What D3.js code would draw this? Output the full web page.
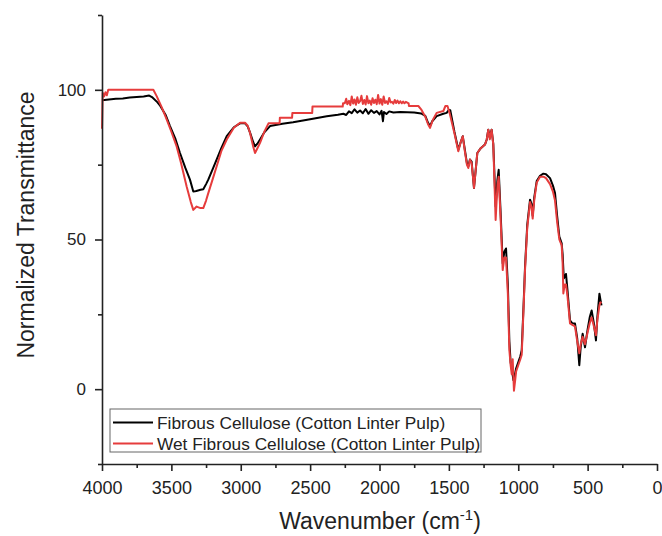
<!DOCTYPE html>
<html>
<head>
<meta charset="utf-8">
<script src="https://cdn.jsdelivr.net/npm/d3@7"></script>
<style>
  body { margin: 0; background: #fff; }
  text { font-family: "Liberation Sans", Arial, sans-serif; }
</style>
</head>
<body>
<svg id="chart" width="662" height="536"></svg>
<script>
// series names
const seriesNames = ["Fibrous Cellulose (Cotton Linter Pulp)", "Wet Fibrous Cellulose (Cotton Linter Pulp)"];

// axis ticks
const xMajorTicks = [4000, 3500, 3000, 2500, 2000, 1500, 1000, 500, 0];
const xMinorTicks = [3750, 3250, 2750, 2250, 1750, 1250, 750, 250];
const yMajorTicks = [0, 50, 100];
const yMinorTicks = [-25, 25, 75, 125];

// fibrous cellulose, [wavenumber, transmittance]
const fibrous = [
  [4000, 96.5], [3950, 96.8], [3900, 97.0], [3850, 97.1], [3800, 97.4], [3750, 97.6],
  [3700, 97.8], [3660, 98.1], [3640, 97.6], [3600, 95.8], [3580, 94.6], [3540, 91.5],
  [3510, 87.9], [3470, 83.5], [3438, 78.9], [3400, 74.0], [3366, 70.0], [3342, 66.0],
  [3320, 66.2], [3290, 66.6], [3270, 66.8], [3250, 68.5], [3234, 70.0], [3200, 73.8],
  [3174, 76.7], [3140, 80.5], [3101, 84.5], [3050, 87.5], [3005, 88.8], [2969, 88.8],
  [2950, 87.8], [2933, 85.7], [2910, 82.5], [2897, 81.1], [2880, 82.0], [2861, 83.4],
  [2830, 85.8], [2789, 87.9], [2700, 88.7], [2623, 89.2], [2500, 90.2], [2380, 91.2],
  [2300, 91.7], [2260, 92.0], [2240, 91.6], [2220, 92.8], [2200, 92.2], [2180, 93.5],
  [2160, 92.4], [2140, 93.1], [2120, 92.2], [2100, 93.6], [2080, 92.0], [2060, 93.2],
  [2040, 92.3], [2020, 92.9], [2000, 91.8], [1985, 93.0], [1975, 89.5], [1968, 92.6],
  [1950, 91.9], [1930, 92.8], [1900, 92.4], [1850, 92.6], [1800, 92.5], [1750, 92.4],
  [1700, 92.1], [1670, 91.3], [1650, 89.0], [1636, 87.9], [1620, 89.5], [1588, 91.2],
  [1540, 92.0], [1516, 92.3], [1500, 93.3], [1490, 93.2], [1460, 86.0], [1432, 80.0],
  [1415, 82.5], [1400, 84.5], [1385, 80.0], [1370, 75.5], [1360, 74.4], [1348, 76.7],
  [1336, 76.0], [1319, 67.2], [1305, 74.0], [1295, 78.9], [1270, 80.5], [1240, 81.7],
  [1227, 83.4], [1216, 86.7], [1205, 84.0], [1192, 86.7], [1180, 82.0], [1163, 61.0],
  [1150, 70.0], [1141, 73.3], [1128, 60.0], [1112, 42.0], [1100, 46.0], [1088, 47.0],
  [1075, 35.0], [1064, 16.0], [1055, 9.0], [1047, 7.0], [1035, 3.0], [1028, 4.0],
  [1015, 7.0], [1000, 9.0], [985, 11.0], [975, 13.0], [960, 30.0], [951, 41.0],
  [935, 55.0], [915, 63.3], [905, 62.0], [896, 58.0], [885, 64.0], [867, 69.5],
  [843, 71.3], [819, 72.0], [800, 71.8], [771, 70.5], [750, 68.0], [735, 65.5],
  [720, 58.0], [704, 51.0], [687, 48.7], [680, 45.0], [672, 37.0], [665, 37.5],
  [656, 38.5], [645, 33.0], [627, 23.0], [610, 22.0], [591, 21.9], [575, 17.0],
  [560, 8.0], [550, 14.0], [536, 18.5], [519, 14.0], [500, 20.0], [485, 24.0],
  [471, 26.3], [455, 22.0], [440, 16.3], [430, 24.0], [415, 31.9], [408, 30.0], [400, 28.0]
];

// wet fibrous cellulose
const wet = [
  [4000, 87.0], [3995, 99.0], [3985, 97.8], [3975, 99.2], [3965, 98.2], [3955, 100],
  [3900, 100], [3800, 100], [3700, 100], [3630, 100], [3606, 97.9], [3570, 94.2],
  [3534, 90.1], [3500, 86.0], [3462, 81.1], [3430, 75.5], [3390, 67.7], [3360, 62.5],
  [3342, 59.9], [3318, 61.0], [3290, 60.5], [3270, 60.5], [3250, 63.0], [3234, 65.5],
  [3200, 70.5], [3174, 74.4], [3140, 79.5], [3101, 83.4], [3050, 87.3], [3005, 89.0],
  [2969, 89.0], [2950, 88.0], [2933, 85.6], [2910, 81.0], [2897, 78.9], [2880, 80.5],
  [2861, 82.3], [2830, 86.0], [2800, 88.8], [2720, 88.8], [2718, 90.7], [2630, 90.7],
  [2628, 92.3], [2485, 92.3], [2483, 94.4], [2265, 94.4], [2263, 95.5], [2250, 95.5],
  [2240, 97.0], [2232, 95.2], [2220, 96.3], [2210, 94.9], [2200, 97.8], [2190, 95.4],
  [2180, 96.8], [2170, 95.0], [2160, 97.5], [2150, 95.6], [2140, 96.2], [2130, 98.0],
  [2120, 95.3], [2110, 96.6], [2100, 95.1], [2090, 97.9], [2080, 95.5], [2070, 96.4],
  [2060, 95.0], [2050, 97.2], [2040, 95.6], [2030, 96.7], [2020, 95.2], [2010, 98.3],
  [2000, 95.4], [1990, 96.9], [1980, 95.0], [1970, 97.8], [1960, 95.6], [1950, 96.2],
  [1940, 95.3], [1930, 97.3], [1920, 95.8], [1910, 96.0], [1900, 95.4], [1890, 96.6],
  [1880, 95.6], [1870, 96.4], [1860, 95.5], [1850, 96.2], [1840, 95.5], [1830, 96.1],
  [1820, 95.5], [1810, 96.0], [1790, 95.5], [1788, 94.6], [1720, 94.6], [1700, 93.5],
  [1670, 91.0], [1650, 88.5], [1636, 87.3], [1615, 90.0], [1588, 92.3], [1540, 92.9],
  [1525, 94.6], [1510, 94.6], [1495, 92.3], [1460, 85.5], [1432, 79.5], [1415, 82.5],
  [1400, 84.5], [1385, 79.5], [1370, 75.0], [1360, 73.9], [1348, 76.7], [1336, 75.5],
  [1319, 67.2], [1305, 74.0], [1295, 78.9], [1270, 80.5], [1240, 81.7], [1227, 83.4],
  [1216, 86.7], [1205, 83.5], [1192, 86.7], [1180, 81.7], [1163, 56.5], [1150, 68.0],
  [1141, 71.0], [1128, 58.0], [1112, 39.8], [1100, 44.0], [1088, 44.0], [1075, 32.0],
  [1064, 13.0], [1055, 8.0], [1047, 5.0], [1040, 10.0], [1031, -0.5], [1022, 3.0],
  [1015, 6.0], [1000, 8.0], [985, 10.0], [975, 11.5], [960, 29.0], [951, 40.0],
  [935, 54.0], [915, 62.5], [905, 61.0], [896, 57.0], [885, 63.0], [867, 69.0],
  [843, 71.0], [819, 71.0], [800, 70.5], [771, 68.5], [750, 66.0], [735, 63.0],
  [720, 56.0], [704, 50.0], [687, 48.0], [680, 42.0], [675, 32.0], [665, 35.0],
  [656, 35.0], [645, 31.0], [627, 22.0], [610, 21.5], [591, 21.0], [575, 16.0],
  [560, 12.0], [550, 15.0], [536, 17.5], [519, 15.0], [500, 19.0], [485, 22.0],
  [471, 24.0], [455, 21.0], [440, 18.0], [430, 23.0], [415, 28.0], [408, 29.0], [400, 28.7]
];

const colors = ["#000000", "#e63c3c"];

const svg = d3.select("#chart");
const margin = {left: 102, right: 5, top: 15, bottom: 72};
const w = 662, h = 536;

const x = d3.scaleLinear().domain([4000, 0]).range([margin.left, w - margin.right]);
const y = d3.scaleLinear().domain([-25, 125]).range([h - margin.bottom, margin.top]);

const line = d3.line()
  .x(d => x(d[0]))
  .y(d => y(d[1]));

// spectra, red on top
[fibrous, wet].forEach(function (series, i) {
  svg.append("path")
    .datum(series)
    .attr("fill", "none")
    .attr("stroke", colors[i])
    .attr("stroke-width", 2)
    .attr("stroke-linejoin", "round")
    .attr("d", line);
});

// x axis
const xAxis = svg.append("g").attr("transform", `translate(0,${y(-25)})`);
xAxis.call(d3.axisBottom(x).tickValues(xMajorTicks).tickFormat(d3.format("d"))
  .tickSize(7).tickSizeOuter(0).tickPadding(10));
xAxis.selectAll(".tick text").attr("font-size", 18);
svg.append("g").attr("transform", `translate(0,${y(-25)})`)
  .call(d3.axisBottom(x).tickValues(xMinorTicks).tickSize(4).tickFormat(""))
  .select(".domain").remove();

// y axis
const yAxis = svg.append("g").attr("transform", `translate(${x(4000)},0)`);
yAxis.call(d3.axisLeft(y).tickValues(yMajorTicks).tickSize(7).tickSizeOuter(0).tickPadding(9));
yAxis.selectAll(".tick text").attr("font-size", 17);
svg.append("g").attr("transform", `translate(${x(4000)},0)`)
  .call(d3.axisLeft(y).tickValues(yMinorTicks).tickSize(4).tickFormat(""))
  .select(".domain").remove();

svg.selectAll(".domain, .tick line").attr("stroke", "#222").attr("stroke-width", 1.6);
svg.selectAll(".tick text")
  .attr("fill", "#222")
  .style("font-family", "'Liberation Sans', Arial, sans-serif");

// axis titles
svg.append("text")
  .attr("transform", "translate(34,225) rotate(-90)")
  .attr("text-anchor", "middle")
  .attr("font-size", 23)
  .attr("fill", "#222")
  .text("Normalized Transmittance");

const xt = svg.append("text")
  .attr("x", 380)
  .attr("y", 529)
  .attr("text-anchor", "middle")
  .attr("font-size", 23)
  .attr("fill", "#222");
xt.append("tspan").text("Wavenumber (cm");
xt.append("tspan").attr("font-size", 15).attr("dy", -9).text("-1");
xt.append("tspan").attr("dy", 9).text(")");

// legend
const legend = svg.append("g");
legend.append("rect")
  .attr("x", 110).attr("y", 409)
  .attr("width", 371).attr("height", 43)
  .attr("fill", "#fff")
  .attr("stroke", "#666")
  .attr("stroke-width", 1);

seriesNames.forEach(function (name, i) {
  const ly = 422.5 + i * 21;
  legend.append("line")
    .attr("x1", 113).attr("x2", 153)
    .attr("y1", ly).attr("y2", ly)
    .attr("stroke", colors[i])
    .attr("stroke-width", 2);
  legend.append("text")
    .attr("x", 157).attr("y", ly + 6)
    .attr("font-size", 17.3)
    .attr("fill", "#222")
    .text(name);
});
</script>
</body>
</html>
